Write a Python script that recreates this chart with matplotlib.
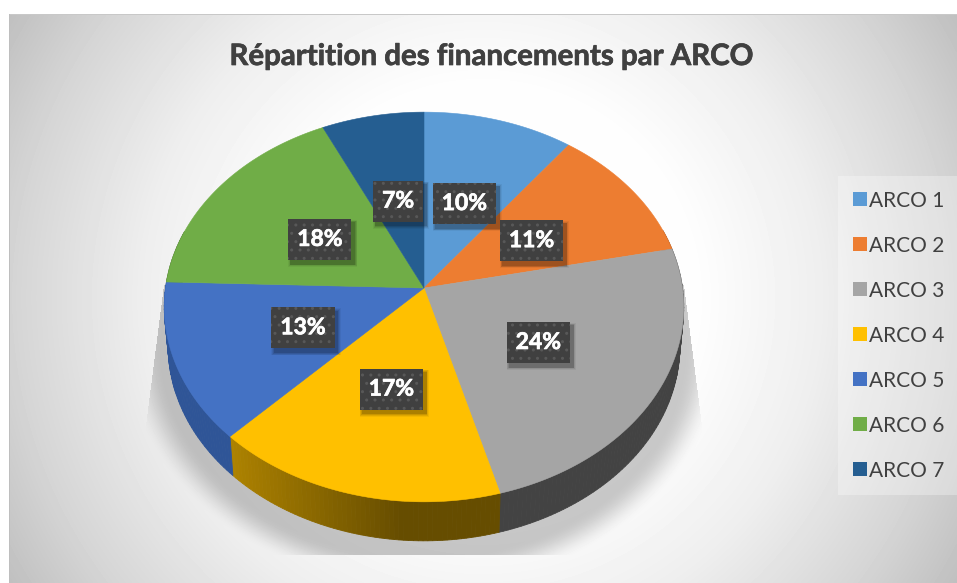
import numpy as np
import matplotlib
matplotlib.use("Agg")
import matplotlib.pyplot as plt
import matplotlib.patheffects as pe
from matplotlib.patches import Rectangle, Patch

TITLE = "Répartition des financements par ARCO"
categories = ["ARCO 1", "ARCO 2", "ARCO 3", "ARCO 4", "ARCO 5", "ARCO 6", "ARCO 7"]
values = [10.3, 11.4, 24.0, 16.6, 13.2, 17.5, 7.0]
labels = ["10%", "11%", "24%", "17%", "13%", "18%", "7%"]
colors = ["#5B9BD5", "#ED7D31", "#A5A5A5", "#FFC000", "#4472C4", "#70AD47", "#255E91"]

W, H = 957, 583
CX, CY, A, B, K = 424.0, 288.0, 258.5, 193.0, 0.0974
DEPTH, BOTTOM_SCALE = 39.0, 0.985

plt.rcParams["font.family"] = ["Lato", "DejaVu Sans"]
plt.rcParams["hatch.linewidth"] = 1.0
fig = plt.figure(figsize=(W / 100, H / 100), dpi=100, facecolor="white")
ax = fig.add_axes([0, 0, 1, 1])
ax.axis("off")


def project(theta, r=1.0, bottom=False):
    u, v = r * np.sin(theta), r * np.cos(theta)
    s = 1 + K * v
    x, y = A * u / s, B * v / s
    if bottom:
        return CX + x * BOTTOM_SCALE, CY - y + DEPTH
    return CX + x, CY - y


# background: radial gradient with the soft pie shadow
yy, xx = np.mgrid[0:H, 0:W] + 0.5
t = np.hypot(xx - 483, yy - 298) / 550
bg = np.interp(t, [0, 0.4, 0.62, 0.85, 1.0, 1.2], [255, 253, 238, 213, 192, 185])
rn = np.hypot((xx - CX) / 275, (yy - 345) / 224)
sh = np.clip((1.09 - rn) / 0.14, 0, 1)
sh = sh * sh * (3 - 2 * sh)
left = 164 - (yy - 285) * 16 / 125
right = 684 + (yy - 285) * 16 / 125
sh *= (xx > left) & (xx < right) & (yy < 555) & (yy > 285)
bg = bg * (1 - 0.21 * sh)
bg[:14, :] = 255
bg[:, :9] = 255
bg[14:15, 9:] = 200
bg[14:, 9:10] = 190
ax.imshow(bg, extent=(0, W, H, 0), cmap="gray", vmin=0, vmax=255, aspect="auto",
          interpolation="nearest", zorder=0)
ax.set_xlim(0, W)
ax.set_ylim(H, 0)

edges = np.concatenate([[0], np.cumsum(values)]) / np.sum(values) * 2 * np.pi


def side_color(i, x):
    if i == 3:
        f = np.clip((x - 232) / (400 - 232), 0, 1)
        c0, c1 = np.array([0xAD, 0x82, 0x00]), np.array([0x66, 0x4D, 0x00])
        return tuple((c0 + (c1 - c0) * f) / 255)
    if i == 4:
        return "#2F5597"
    if i == 2:
        return "#434343"
    return matplotlib.colors.to_hex(np.array(matplotlib.colors.to_rgb(colors[i])) * 0.6)


# rim strips
for i in range(len(values)):
    th = np.linspace(edges[i], edges[i + 1], max(8, int((edges[i + 1] - edges[i]) * 60)))
    for a0, a1 in zip(th[:-1], th[1:]):
        if np.cos(0.5 * (a0 + a1)) > 0.3:
            continue
        x0, y0 = project(a0)
        x1, y1 = project(a1)
        x2, y2 = project(a1, bottom=True)
        x3, y3 = project(a0, bottom=True)
        c = side_color(i, 0.25 * (x0 + x1 + x2 + x3))
        ax.fill([x0, x1, x2, x3], [y0, y1, y2, y3], color=c, lw=0.6, zorder=2)

# top surfaces
for i in range(len(values)):
    th = np.linspace(edges[i], edges[i + 1], 120)
    x, y = project(th)
    ax.fill(np.r_[CX, x], np.r_[CY, y], color=colors[i], lw=0.4, zorder=3)

# percentage labels with dark boxes
renderer = fig.canvas.get_renderer()
for i, lab in enumerate(labels):
    mid = 0.5 * (edges[i] + edges[i + 1])
    lx, ly = project(mid, r=0.5)
    lx += 1
    ly += 3
    tx = ax.text(lx, ly, lab, ha="center", va="center", color="white", fontsize=16.5,
                 fontweight="bold", zorder=8,
                 path_effects=[pe.withStroke(linewidth=0.5, foreground="white")])
    ext = tx.get_window_extent(renderer)
    bw = ext.width + 18
    bh = 41
    x0, y0 = lx - bw / 2, ly - bh / 2
    for g, al in zip([6, 4.5, 3, 1.5], [0.05, 0.08, 0.10, 0.14]):
        ax.add_patch(Rectangle((x0 + 3 - g / 2, y0 + 4 - g / 2), bw + g, bh + g, fc="black",
                               ec="none", alpha=al, zorder=6))
    ax.add_patch(Rectangle((x0, y0), bw, bh, fc="#404040", ec="none", zorder=7))
    ax.add_patch(Rectangle((x0, y0), bw, bh, fc="none", ec="#585858", lw=0, hatch="..", zorder=7))

ax.text(490, 57, TITLE, ha="center", va="center", fontsize=21.2, fontweight="bold",
        color="#404040", zorder=8,
        path_effects=[pe.withStroke(linewidth=0.5, foreground="#404040")])

handles = [Patch(facecolor=c, edgecolor="none", label=n) for c, n in zip(colors, categories)]
leg = ax.legend(handles=handles, loc="upper left", bbox_to_anchor=(838, 176),
                bbox_transform=ax.transData, borderaxespad=0, fontsize=15,
                handlelength=0.67, handleheight=0.67, handletextpad=0.12,
                labelspacing=1.2, borderpad=0.7, fancybox=False, framealpha=0.3,
                facecolor="white", edgecolor="none", labelcolor="#404040")
leg.set_zorder(8)

fig.savefig("out.png", dpi=100, facecolor="white")
